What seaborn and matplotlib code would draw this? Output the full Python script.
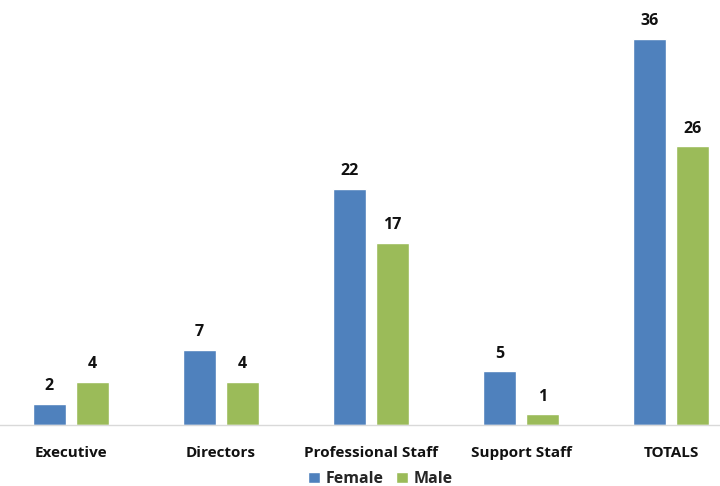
import matplotlib
matplotlib.use("Agg")
import matplotlib.pyplot as plt
import seaborn as sns
import pandas as pd

categories = ["Executive", "Directors", "Professional Staff", "Support Staff", "TOTALS"]
female = [2, 7, 22, 5, 36]
male = [4, 4, 17, 1, 26]
series = ["Female", "Male"]
colors = ["#4F81BD", "#9BBB59"]

df = pd.DataFrame({
    "category": categories * 2,
    "count": female + male,
    "gender": ["Female"] * len(categories) + ["Male"] * len(categories),
})

sns.set_theme(style="white")
plt.rcParams["font.family"] = ["Open Sans", "DejaVu Sans"]

fig = plt.figure(figsize=(7.2, 4.86), dpi=100)
ax = fig.add_axes([0.0, 0.1255, 1.0, 0.8745])

sns.barplot(data=df, x="category", y="count", hue="gender", order=categories,
            hue_order=series, palette=colors, width=0.573, gap=0.233,
            saturation=1, ax=ax, legend=True)

for container in ax.containers:
    ax.bar_label(container, fmt="%d", padding=7, fontsize=11.5,
                 fontweight="bold", color="#111111")

ax.set_xlim(-0.473, 4.327)
ax.set_ylim(0, 39.64)
ax.set_xlabel("")
ax.set_ylabel("")
ax.set_yticks([])
ax.tick_params(axis="x", length=0, pad=15, labelsize=11)
for lbl in ax.get_xticklabels():
    lbl.set_fontweight("bold")
    lbl.set_color("#111111")

for side in ["top", "right", "left"]:
    ax.spines[side].set_visible(False)
ax.spines["bottom"].set_color("#D9D9D9")
ax.spines["bottom"].set_linewidth(1.0)

handles, labels = ax.get_legend_handles_labels()
ax.legend_.remove()
fig.legend(handles, labels, loc="center", bbox_to_anchor=(0.528, 0.014),
           ncol=2, frameon=False, handlelength=0.75, handleheight=0.75,
           handletextpad=0.35, columnspacing=0.8,
           prop={"weight": "bold", "size": 11.5})

fig.savefig("out.png", dpi=100, facecolor="white")
